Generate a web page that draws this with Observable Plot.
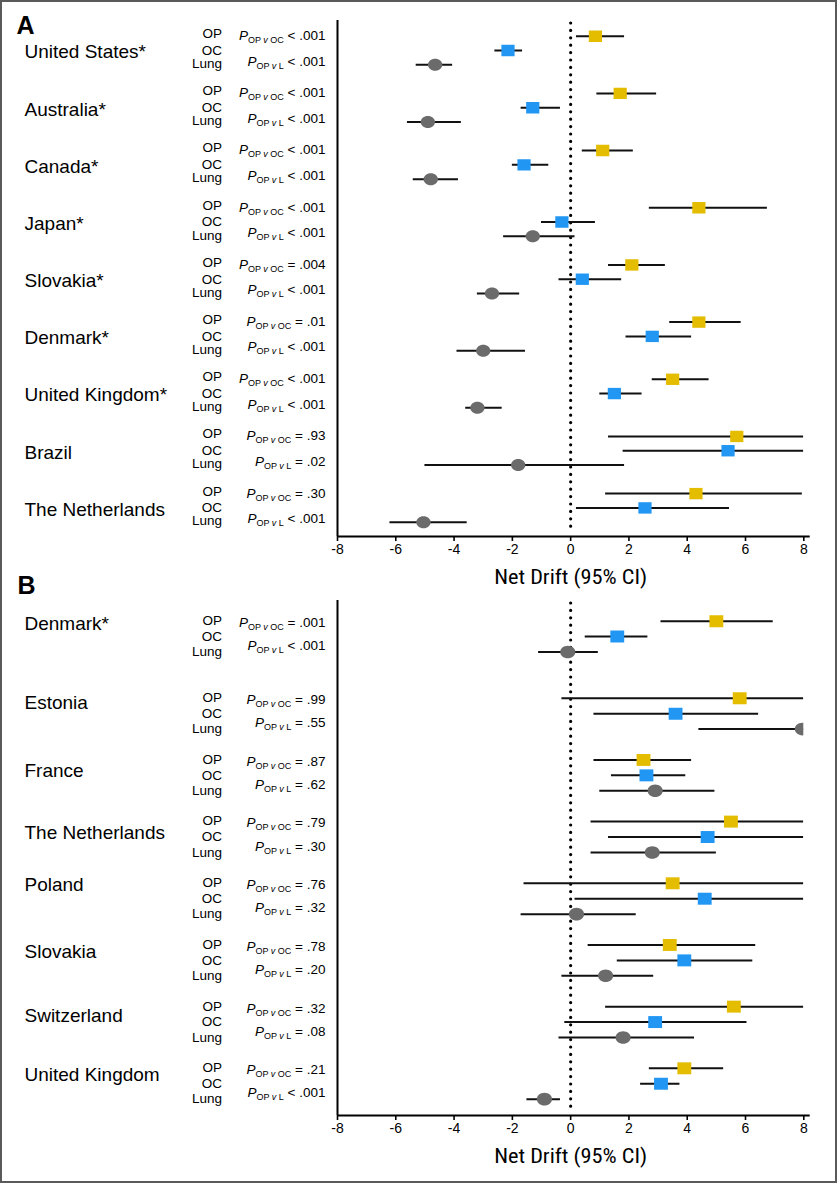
<!DOCTYPE html>
<html><head><meta charset="utf-8">
<script src="https://cdn.jsdelivr.net/npm/d3@7"></script>
<script src="https://cdn.jsdelivr.net/npm/@observablehq/plot@0.6"></script>
<style>
html,body{margin:0;padding:0;background:#fff;}
#page{position:relative;width:837px;height:1183px;overflow:hidden;font-family:"Liberation Sans",Arial,Helvetica,sans-serif;background:#fff;}
#border{position:absolute;left:0;top:0;width:837px;height:1183px;box-sizing:border-box;border:2px solid #5a5a5a;pointer-events:none;}
g[aria-label="x-axis tick label"]{font-size:14px;}
</style></head><body>
<div id="page"></div>
<script>
// ---------- DATA ----------
const seriesNames = ["OP", "OC", "Lung"];
const xTicks = [-8, -6, -4, -2, 0, 2, 4, 6, 8];
const axisTitle = "Net Drift (95% CI)";

// Panel A  [estimate, lower, upper]
const countriesA = ["United States*", "Australia*", "Canada*", "Japan*", "Slovakia*", "Denmark*", "United Kingdom*", "Brazil", "The Netherlands"];
const opA   = [[0.85,0.2,1.85],[1.7,0.9,2.95],[1.1,0.4,2.15],[4.4,2.7,6.75],[2.1,1.3,3.25],[4.4,3.4,5.85],[3.5,2.8,4.75],[5.7,1.3,8],[4.3,1.2,7.95]];
const ocA   = [[-2.15,-2.6,-1.65],[-1.3,-1.7,-0.35],[-1.6,-2.0,-0.75],[-0.3,-1.0,0.85],[0.4,-0.4,1.75],[2.8,1.9,4.15],[1.5,1.0,2.45],[5.4,1.8,8],[2.55,0.2,5.45]];
const lungA = [[-4.65,-5.3,-4.05],[-4.9,-5.6,-3.75],[-4.8,-5.4,-3.85],[-1.3,-2.3,0.15],[-2.7,-3.2,-1.75],[-3.0,-3.9,-1.55],[-3.2,-3.6,-2.35],[-1.8,-5.0,1.85],[-5.05,-6.2,-3.55]];
const pOcA   = ["< .001","< .001","< .001","< .001","= .004","= .01","< .001","= .93","= .30"];
const pLungA = ["< .001","< .001","< .001","< .001","< .001","< .001","< .001","= .02","< .001"];

// Panel B
const countriesB = ["Denmark*", "Estonia", "France", "The Netherlands", "Poland", "Slovakia", "Switzerland", "United Kingdom"];
const opB   = [[5.0,3.1,6.95],[5.8,-0.3,8],[2.5,0.8,4.15],[5.5,0.7,8],[3.5,-1.6,8],[3.4,0.6,6.35],[5.6,1.2,8],[3.9,2.7,5.25]];
const ocB   = [[1.6,0.5,2.65],[3.6,0.8,6.45],[2.6,1.4,3.95],[4.7,1.3,8],[4.6,0.15,8],[3.9,1.6,6.25],[2.9,-0.2,6.05],[3.1,2.4,3.75]];
const lungB = [[-0.1,-1.1,0.95],[7.95,4.4,8],[2.9,1.0,4.95],[2.8,0.7,5.0],[0.2,-1.7,2.25],[1.2,-0.3,2.85],[1.8,-0.4,4.25],[-0.9,-1.5,-0.35]];
const pOcB   = ["= .001","= .99","= .87","= .79","= .76","= .78","= .32","= .21"];
const pLungB = ["< .001","= .55","= .62","= .30","= .32","= .20","= .08","< .001"];

// ---------- STYLE ----------
const colors = {OP: "#E4BD00", OC: "#2196F3", Lung: "#6B6B6B"};
const FONT = '"Liberation Sans", Arial, Helvetica, sans-serif';

const rectSym = {draw(ctx, size) {
  const r = Math.sqrt(size / Math.PI), w = r * 1.1, h = r * 0.95;
  ctx.moveTo(-w, -h); ctx.lineTo(w, -h); ctx.lineTo(w, h); ctx.lineTo(-w, h); ctx.closePath();
}};
const ellipseSym = {draw(ctx, size) {
  const r = Math.sqrt(size / Math.PI), rx = r * 1.2, ry = r, k = 0.5523;
  ctx.moveTo(rx, 0);
  ctx.bezierCurveTo(rx, k * ry, k * rx, ry, 0, ry);
  ctx.bezierCurveTo(-k * rx, ry, -rx, k * ry, -rx, 0);
  ctx.bezierCurveTo(-rx, -k * ry, -k * rx, -ry, 0, -ry);
  ctx.bezierCurveTo(k * rx, -ry, rx, -k * ry, rx, 0);
  ctx.closePath();
}};
const symbols = {OP: rectSym, OC: rectSym, Lung: ellipseSym};

function panel(cfg) {
  const {countries, series, pOC, pL, groupStart, yDomain, height, marginTop, marginBottom,
         letter, letterDx, letterDy, labelShift, seriesShift, p1Shift, p2Shift, r, top} = cfg;
  const rows = [];
  countries.forEach((c, g) => {
    seriesNames.forEach((s, i) => {
      const [est, lo, hi] = series[i][g];
      rows.push({country: c, series: s, row: groupStart(g) + i, est, lo, hi});
    });
  });
  const labels = countries.map((c, g) => ({name: c, row: groupStart(g) + labelShift(g)}));
  const serLabels = rows.map(d => ({t: d.series, row: d.row + seriesShift[d.series]}));
  const pTexts = [];
  countries.forEach((c, g) => {
    pTexts.push({t: "§C|" + pOC[g], row: groupStart(g) + p1Shift});
    pTexts.push({t: "§L|" + pL[g], row: groupStart(g) + p2Shift});
  });

  const marks = [
    Plot.ruleX([0], {stroke: "black", strokeWidth: 3.2, strokeDasharray: "0 7.4", strokeLinecap: "round", insetTop: 3, insetBottom: 5}),
    Plot.ruleY(rows, {y: "row", x1: "lo", x2: "hi", stroke: "#111", strokeWidth: 2, clip: true}),
    ...seriesNames.map(s => Plot.dot(rows.filter(d => d.series === s), {
      x: "est", y: "row", r, symbol: symbols[s], fill: colors[s], stroke: "none", clip: true})),
    Plot.ruleX([-8], {stroke: "black", strokeWidth: 2}),
    Plot.ruleY([yDomain[1]], {x1: -8, x2: 8.22, stroke: "black", strokeWidth: 2}),
    Plot.axisX({ticks: xTicks, tickSize: 5, tickPadding: 3, tickFormat: d => String(d), fontSize: 14, strokeWidth: 1.6, label: null}),
    Plot.text(labels, {y: "row", text: "name", frameAnchor: "left", dx: -313, textAnchor: "start", lineAnchor: "middle", fontSize: 19}),
    Plot.text(serLabels, {y: "row", text: "t", frameAnchor: "left", dx: -115.5, textAnchor: "end", lineAnchor: "middle", fontSize: 13.5}),
    Plot.text(pTexts, {y: "row", text: "t", frameAnchor: "left", dx: -12, textAnchor: "end", lineAnchor: "middle", fontSize: 13.5}),
    Plot.text([{t: letter}], {text: "t", frameAnchor: "top-left", dx: letterDx, dy: letterDy, textAnchor: "start", lineAnchor: "middle", fontSize: 25, fontWeight: "bold"}),
    Plot.text([{x: 0, t: axisTitle}], {x: "x", text: "t", frameAnchor: "bottom", dy: 41, lineAnchor: "middle", fontSize: 21,
      fontFamily: '"Liberation Sans Narrow", "Roboto Condensed", "Liberation Sans", Arial, sans-serif'})
  ];

  const svg = Plot.plot({
    width: 837, height, marginLeft: 337, marginRight: 33.7, marginTop, marginBottom,
    style: {fontFamily: FONT, fontSize: "13px", color: "black", background: "transparent", overflow: "visible"},
    x: {domain: [-8, 8], axis: null},
    y: {domain: yDomain, reverse: true, axis: null},
    marks
  });
  svg.style.position = "absolute";
  svg.style.left = "0px";
  svg.style.top = top + "px";
  svg.style.background = "transparent";
  // Rich text for P values
  svg.querySelectorAll("text").forEach(t => {
    const s = t.textContent;
    if (s === axisTitle) { t.setAttribute("textLength", "153"); t.setAttribute("lengthAdjust", "spacingAndGlyphs"); return; }
    if (!s.startsWith("§")) return;
    const kind = s[1], val = s.slice(3);
    while (t.firstChild) t.removeChild(t.firstChild);
    const add = (txt, attrs) => {
      const e = document.createElementNS("http://www.w3.org/2000/svg", "tspan");
      e.textContent = txt;
      for (const k in attrs) e.setAttribute(k, attrs[k]);
      t.appendChild(e);
    };
    add("P", {"font-style": "italic"});
    add("OP ", {"font-size": "9px", dy: "3"});
    add("v", {"font-size": "9px", "font-style": "italic"});
    add(kind === "C" ? " OC" : " L", {"font-size": "9px"});
    add(" " + val, {dy: "-3"});
  });
  return svg;
}

const page = document.getElementById("page");

const svgA = panel({
  countries: countriesA, series: [opA, ocA, lungA], pOC: pOcA, pL: pLungA,
  groupStart: g => 4 * g, yDomain: [-1.1, 35.0], height: 595, marginTop: 20, marginBottom: 59,
  letter: "A", letterDx: -321, letterDy: 5.5,
  labelShift: g => 1.12, seriesShift: {OP: -0.17, OC: 0, Lung: -0.08}, p1Shift: -0.03, p2Shift: 1.75,
  r: 6, top: 0
});
const svgB = panel({
  countries: countriesB, series: [opB, ocB, lungB], pOC: pOcB, pL: pLungB,
  groupStart: g => g === 0 ? 0 : 4 * g + 1, yDomain: [-1.34, 32.06], height: 623, marginTop: 40, marginBottom: 68,
  letter: "B", letterDx: -320, letterDy: -15,
  labelShift: g => [0.15, 0.28, 0.7, 0.72, 0.08, 0.47, 0.61, 0.43][g], seriesShift: {OP: -0.03, OC: 0, Lung: 0}, p1Shift: 0.1, p2Shift: 1.6,
  r: 6.3, top: 560
});
page.appendChild(svgA);
page.appendChild(svgB);
const border = document.createElement("div");
border.id = "border";
page.appendChild(border);
</script>
</body></html>
